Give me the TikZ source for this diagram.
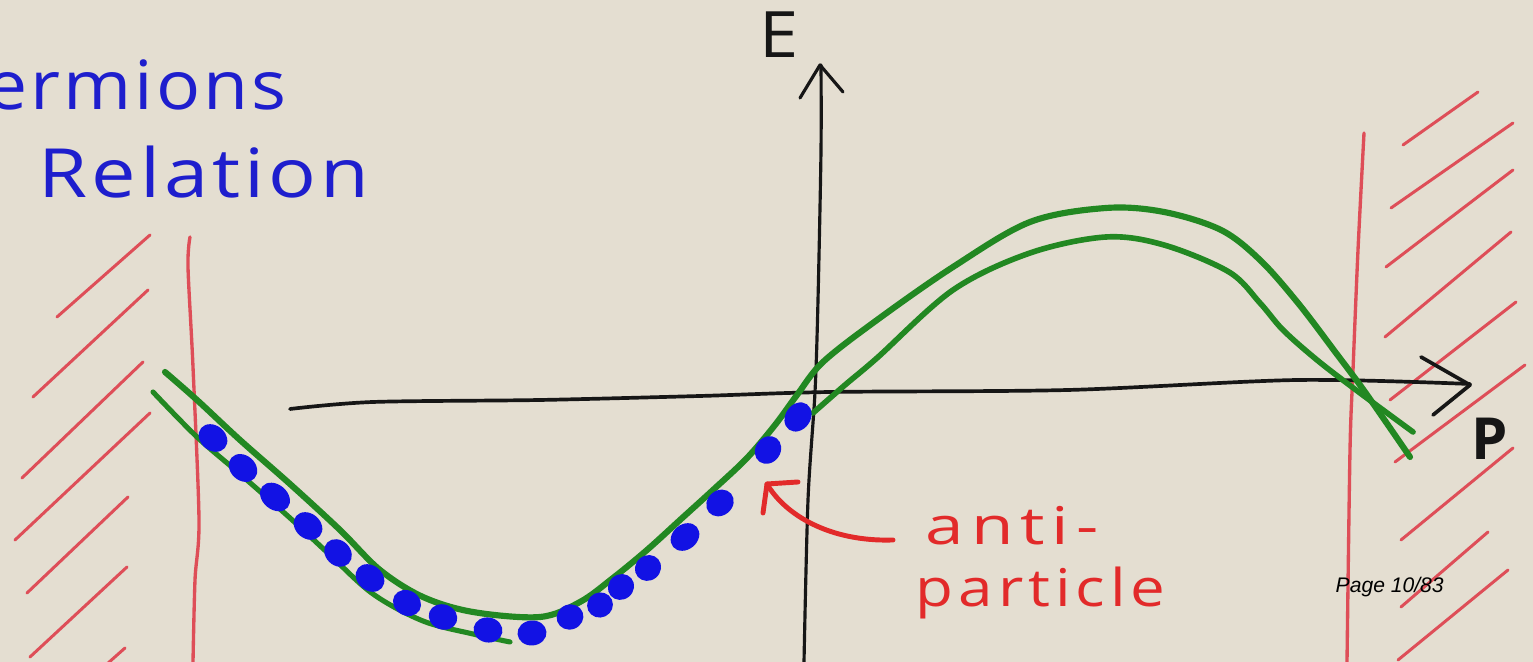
\documentclass[tikz,border=0pt]{standalone}
\usepackage{fontspec}
\usepackage{graphicx}
\setmainfont{Open Sans}
\newfontfamily\hand{Open Sans}
\newfontfamily\pagefont{Liberation Sans}
\definecolor{bg}{RGB}{228,222,209}
\definecolor{inkblue}{RGB}{30,30,205}
\definecolor{dotblue}{RGB}{18,18,228}
\definecolor{inkgreen}{RGB}{34,136,34}
\definecolor{hatchred}{RGB}{222,78,88}
\definecolor{inkred}{RGB}{226,42,42}
\definecolor{ink}{RGB}{22,22,22}
\newcommand\blob[4]{\fill[dotblue, rotate around={#3:(#1,#2)}] (#1,#2) ellipse [x radius=#4, y radius=12.5];}
\tikzset{
  hatch/.style={hatchred, line width=0.85pt, line cap=round},
  wall/.style={hatchred, line width=0.95pt, line cap=round},
  axis/.style={ink, line width=0.9pt, line cap=round, line join=round},
  band/.style={inkgreen, line width=1.6pt, line cap=round, line join=round},
  redink/.style={inkred, line width=1.4pt, line cap=round, line join=round},
  bluetxt/.style={anchor=base west, inner sep=0pt, text=inkblue, font=\hand\fontsize{19.3}{22}\selectfont},
  redtxt/.style={anchor=base west, inner sep=0pt, text=inkred, font=\hand\fontsize{14.8}{17}\selectfont},
  blacktxt/.style={anchor=base west, inner sep=0pt, text=ink}
}
\begin{document}
\begin{tikzpicture}[x=0.01cm, y=-0.01cm]
\useasboundingbox (0,0) rectangle (1533,662);
\clip (0,0) rectangle (1533,662);
\fill[bg] (0,0) rectangle (1533,662);

% title
\node[bluetxt, font=\hand\fontsize{19.3}{22}\selectfont\addfontfeature{LetterSpace=4}] (title1) at (-14,110) {\scalebox{1.08}[1]{ermions}};
\node[bluetxt, font=\hand\fontsize{19.3}{22}\selectfont\addfontfeature{LetterSpace=5}] (title2) at (38,198) {\scalebox{1.17}[1]{Relation}};

% walls
\draw[wall] plot[smooth] coordinates {(190,237) (188,267) (193,367) (199,520) (195,580) (193,662)};
\draw[wall] plot[smooth] coordinates {(1364,133) (1358,250) (1353,370) (1350,450) (1347,662)};

% left hatches
\foreach \a/\b/\c/\d in {57/317/150/235, 33/397/148/290, 22/478/143/362, 15/540/150/413, 27/593/128/497, 30/657/127/567, 107/664/125/648}
  \draw[hatch] (\a,\b) -- (\c,\d);
% right hatches
\foreach \a/\b/\c/\d in {1403/145/1478/92, 1391/208/1513/123, 1386/267/1513/170, 1385/337/1511/232, 1390/400/1516/302, 1395/462/1525/365, 1401/540/1513/448, 1401/607/1488/532, 1398/660/1508/570}
  \draw[hatch] (\a,\b) -- (\c,\d);

% axes
\draw[axis, line width=1.05pt] plot[smooth] coordinates {(290,409) (373,402) (540,400) (700,396) (830,392) (1068,390) (1298,380) (1470,384)};
\draw[axis, line width=1.05pt] (1421,357) -- (1470,385) -- (1433,415);
\draw[axis] plot[smooth] coordinates {(821,65) (821,150) (818,300) (815,392) (808,500) (804,662)};
\draw[axis] (800,98) -- (820,65) -- (843,92);
\node[blacktxt, font=\hand\fontsize{18.2}{20}\selectfont] (E) at (759,58) {\scalebox{1.1}[1]{E}};
\node[blacktxt, font=\hand\bfseries\fontsize{16.5}{18}\selectfont] (P) at (1471,460) {P};

% green bands
\draw[band, line width=1.75pt] plot[smooth, tension=0.55] coordinates {(165,372) (197,400) (240,440) (290,484) (340,530) (380,570) (423,597) (473,612) (540,617) (580,602) (613,578) (647,550) (680,520) (713,490) (747,458) (775,425) (797,395) (823,362) (877,320) (953,267) (1030,222) (1106,208) (1164,212) (1221,230) (1260,260) (1298,303) (1336,353) (1365,392) (1410,457)};
\draw[band, line width=1.45pt] plot[smooth, tension=0.55] coordinates {(153,392) (197,437) (240,474) (290,518) (330,555) (373,594) (423,621) (473,634) (510,642)};
\draw[band, line width=1.6pt] plot[smooth, tension=0.55] coordinates {(813,413) (845,385) (877,358) (953,290) (1030,253) (1106,237) (1164,245) (1229,272) (1260,303) (1283,330) (1317,360) (1356,390) (1413,432)};

% occupied states
\blob{213}{438}{-40}{15.5}
\blob{243}{468}{-42}{15.5}
\blob{275}{497}{-40}{16.5}
\blob{308}{526}{-40}{15.5}
\blob{338}{553}{-45}{15}
\blob{370}{578}{-40}{15.5}
\blob{407}{603}{-30}{14.5}
\blob{443}{617}{-20}{14.5}
\blob{488}{630}{-10}{14.5}
\blob{532}{633}{5}{14.5}
\blob{570}{617}{20}{13.5}
\blob{600}{605}{25}{13}
\blob{621}{587}{40}{13.5}
\blob{648}{568}{40}{13.5}
\blob{685}{537}{40}{15.5}
\blob{720}{503}{40}{14.5}
\blob{768}{450}{55}{14.5}
\blob{798}{417}{55}{15.5}

% anti-particle label and arrow
\node[redtxt, font=\hand\fontsize{14.8}{17}\selectfont\addfontfeature{LetterSpace=10}] (anti) at (925,545) {\scalebox{1.33}[1]{anti-}};
\node[redtxt, font=\hand\fontsize{14.8}{17}\selectfont\addfontfeature{LetterSpace=8}] (part) at (915,607) {\scalebox{1.19}[1]{particle}};
\coordinate (tail) at (893,540);
\coordinate (tip) at (767,484);
\draw[redink] (tail) .. controls (830,542) and (785,515) .. (tip);
\draw[redink] (763,513) -- (tip) -- (798,482);

% page number
\node[anchor=base west, inner sep=0pt, font=\pagefont\itshape\fontsize{6}{7}\selectfont] (page) at (1335,593) {Page 10/83};
\end{tikzpicture}
\end{document}
